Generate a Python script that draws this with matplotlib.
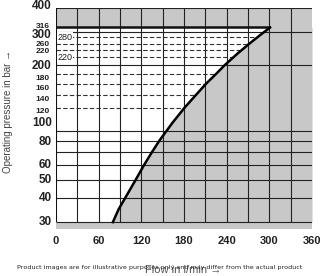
import matplotlib
matplotlib.use('Agg')
import matplotlib.pyplot as plt

# curve: flow (l/min) vs operating pressure (bar)
pressure = [30, 35, 40, 50, 60, 70, 80, 90, 100, 120, 140, 160, 180, 200, 230, 260, 290, 316]
flow = [80, 88, 97, 112, 124, 135, 145, 155, 164, 181, 197, 211, 225, 237, 255, 272, 288, 301]

solid_levels = [400, 300, 200, 90, 80, 70, 60, 50, 40, 30]
dashed_levels = [280, 260, 240, 220, 180, 160, 140, 120]
vert_lines = [30, 60, 90, 120, 150, 180, 210, 240, 270, 300, 330]
x_ticks = [0, 60, 120, 180, 240, 300, 360]
y_big = [400, 300, 200, 100, 80, 60, 50, 40, 30]
y_small = [316, 260, 220, 180, 160, 140, 120]
inner_labels = [280, 220]

# small nudges (px, down positive) so labels sit like in the datasheet
nudge = {400: -2, 316: -1, 300: 3, 260: 1, 220: -6, 200: 0.5, 180: 4, 160: 5,
         140: 5, 120: 4, 100: 0, 80: 0.5, 60: 0.5, 50: 0.5, 40: 0, 30: -0.5}

grey = '#c8c8c8'
line_col = '#222222'
narrow = ['Liberation Sans Narrow', 'Liberation Sans', 'DejaVu Sans']
sans = ['Liberation Sans', 'DejaVu Sans']

fig = plt.figure(figsize=(3.22, 2.76), dpi=100)
ax = fig.add_axes([56 / 322, 1 - 229 / 276, 256 / 322, 221 / 276])
ax.set_yscale('log')
ax.set_xlim(0, 360)
ax.set_ylim(27.6, 400)
for s in ax.spines.values():
    s.set_visible(False)

# grey areas
ax.fill_betweenx(pressure, flow, 360, color=grey, lw=0, zorder=2, antialiased=False)
ax.axhspan(316, 400, color=grey, lw=0, zorder=2, antialiased=False)
ax.axhspan(27.6, 30, color=grey, lw=0, zorder=2, antialiased=False)
ax.axvspan(flow[-1], 360, color=grey, lw=0, zorder=2, antialiased=False)

# grid
ax.hlines(dashed_levels, 0, 360, colors='#333333', lw=0.8,
          linestyles=(0, (4, 2)), zorder=1.5)
ax.hlines(solid_levels, 0, 360, colors=line_col, lw=0.8, zorder=3)
ax.vlines(vert_lines, 30, 400, colors=line_col, lw=0.8, zorder=3)
ax.vlines(0, 30, 400, colors='#111111', lw=1.5, zorder=3)
ax.hlines(316, 0, flow[-1], colors='#111111', lw=1.8, zorder=3)

# characteristic curve
ax.plot(flow, pressure, color='black', lw=1.8, zorder=4)

for v in inner_labels:
    ax.text(2, v, str(v), fontsize=6.5, va='center', ha='left',
            family=sans, color='#222222',
            bbox=dict(fc='white', ec='none', pad=0.5), zorder=3.5)

ax.set_xticks(x_ticks)
ax.set_xticklabels([str(v) for v in x_ticks], family=sans,
                   fontweight='bold', fontsize=8)
ax.tick_params(axis='x', length=0, pad=5, colors='#222222')
ax.set_yticks([])
ax.minorticks_off()

for v in y_big + y_small:
    big = v in y_big
    ax.annotate(str(v), xy=(0, v), xycoords=('axes fraction', 'data'),
                xytext=(-3 if big else -4.3, -nudge[v] * 0.72),
                textcoords='offset points', ha='right', va='center',
                fontsize=8.5 if big else 6, fontweight='bold',
                family=narrow, color='#222222')

fig.text(8 / 322, 1 - 112 / 276, 'Operating pressure in bar \u2192', rotation=90,
         ha='center', va='center', fontsize=7, color='#444444', family=sans)
fig.text(183 / 322, 1 - 270 / 276, 'Flow in l/min \u2192', ha='center', va='center',
         fontsize=8, color='#555555', family=sans)
fig.text(160 / 322, 1 - 268 / 276,
         'Product images are for illustrative purposes only and may differ from the actual product',
         ha='center', va='center', fontsize=4.6, color='#222222')

fig.savefig('out.png', dpi=100)
